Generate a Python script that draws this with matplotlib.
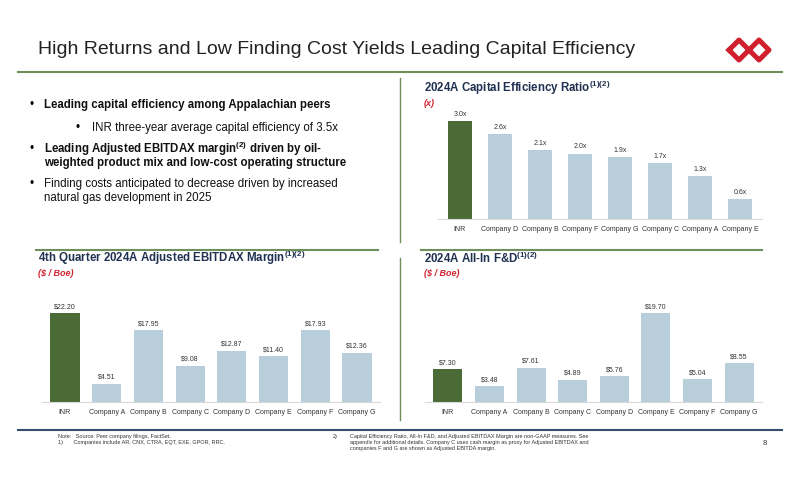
import matplotlib
matplotlib.use("Agg")
import matplotlib.pyplot as plt
from matplotlib.lines import Line2D

plt.rcParams['font.family'] = ['Liberation Sans', 'DejaVu Sans']
plt.rcParams['mathtext.fontset'] = 'custom'
plt.rcParams['mathtext.rm'] = 'Liberation Sans'
plt.rcParams['mathtext.bf'] = 'Liberation Sans:bold'

ce_cats = ["INR", "Company D", "Company B", "Company F", "Company G", "Company C", "Company A", "Company E"]
ce_vals = [3.0, 2.6, 2.1, 2.0, 1.9, 1.7, 1.3, 0.6]
eb_cats = ["INR", "Company A", "Company B", "Company C", "Company D", "Company E", "Company F", "Company G"]
eb_vals = [22.20, 4.51, 17.95, 9.08, 12.87, 11.40, 17.93, 12.36]
fd_cats = ["INR", "Company A", "Company B", "Company C", "Company D", "Company E", "Company F", "Company G"]
fd_vals = [7.30, 3.48, 7.61, 4.89, 5.76, 19.70, 5.04, 8.55]

W, H = 800, 486
fig = plt.figure(figsize=(8, 4.86), dpi=100)
GREEN = "#4A6B35"; BLUE = "#B9CEDB"; NAVY = "#1F3050"; RED = "#D0202E"; RULE = "#6E8E5A"

def px(x, y):
    return x / W, 1 - y / H

def hline(x0, x1, y, color, lw):
    fig.add_artist(Line2D([x0 / W, x1 / W], [1 - y / H] * 2, color=color, lw=lw))

def vline(x, y0, y1, color, lw):
    fig.add_artist(Line2D([x / W] * 2, [1 - y0 / H, 1 - y1 / H], color=color, lw=lw))

fig.text(*px(38, 50), "High Returns and Low Finding Cost Yields Leading Capital Efficiency",
         fontsize=14, color="#222222", va="center")
hline(18, 782, 72, RULE, 1.5)
vline(400, 78, 242, RULE, 1)
vline(400, 258, 420, RULE, 1)
hline(36, 378, 250, RULE, 1.5)
hline(421, 762, 250, RULE, 1.5)
hline(18, 782, 430, "#3A4E72", 1.5)

for cx in (739, 759):
    xs = [cx - 10, cx, cx + 10, cx, cx - 10]
    ys = [50, 40, 50, 60, 50]
    fig.add_artist(Line2D([x / W for x in xs], [1 - y / H for y in ys], color=RED, lw=3.6))

fs = 8.3
fig.text(*px(30, 105), "•", fontsize=fs, va="center")
fig.text(*px(44, 105), "Leading capital efficiency among Appalachian peers", fontsize=fs, fontweight="bold", va="center", color="#111111")
fig.text(*px(76, 128), "•", fontsize=fs, va="center")
fig.text(*px(92, 128), "INR three-year average capital efficiency of 3.5x", fontsize=fs, va="center", color="#111111")
fig.text(*px(30, 149), "•", fontsize=fs, va="center")
fig.text(*px(44, 149), r"Leading Adjusted EBITDAX margin$^{\mathbf{(2)}}$ driven by oil-", fontsize=fs, fontweight="bold", va="center", color="#111111")
fig.text(*px(44, 163), "weighted product mix and low-cost operating structure", fontsize=fs, fontweight="bold", va="center", color="#111111")
fig.text(*px(30, 184), "•", fontsize=fs, va="center")
fig.text(*px(44, 184), "Finding costs anticipated to decrease driven by increased", fontsize=fs, va="center", color="#111111")
fig.text(*px(44, 198), "natural gas development in 2025", fontsize=fs, va="center", color="#111111")

def ctitle(x, y, t, unit):
    fig.text(*px(x, y), t, fontsize=8.3, fontweight="bold", color=NAVY, va="center")
    fig.text(*px(x, y + 15), unit, fontsize=6.5, fontweight="bold", style="italic", color=RED, va="center")

ctitle(424, 88, r"2024A Capital Efficiency Ratio$^{\mathbf{(1)(2)}}$", "(x)")
ctitle(38, 258, r"4th Quarter 2024A Adjusted EBITDAX Margin$^{\mathbf{(1)(2)}}$", "($ / Boe)")
ctitle(424, 258, r"2024A All-In F&D$^{\mathbf{(1)(2)}}$", "($ / Boe)")

def chart(rect, cats, vals, ymax, fmt, width):
    x0, y0, x1, y1 = rect
    ax = fig.add_axes([x0 / W, 1 - y1 / H, (x1 - x0) / W, (y1 - y0) / H])
    colors = [GREEN] + [BLUE] * (len(vals) - 1)
    ax.bar(range(len(vals)), vals, width=width, color=colors)
    for i, v in enumerate(vals):
        ax.text(i, v + ymax * 0.03, fmt(v), ha="center", va="bottom", fontsize=5, color="#333333")
    ax.set_ylim(0, ymax)
    ax.set_xlim(-0.55, len(vals) - 0.45)
    ax.set_xticks(range(len(vals)))
    ax.set_xticklabels(cats, fontsize=5, color="#333333")
    ax.tick_params(axis="x", length=0, pad=5)
    ax.set_yticks([])
    for s in ("top", "right", "left"):
        ax.spines[s].set_visible(False)
    ax.spines["bottom"].set_color("#D9D9D9")
    return ax

chart((438, 110, 762, 219), ce_cats, ce_vals, 3.33, lambda v: f"{v:.1f}x", 0.6)
chart((42, 302, 380, 402), eb_cats, eb_vals, 25.0, lambda v: f"${v:.2f}", 0.7)
chart((425, 302, 762, 402), fd_cats, fd_vals, 22.2, lambda v: f"${v:.2f}", 0.7)

fs = 4
fig.text(*px(58, 436), "Note:   Source: Peer company filings, FactSet.", fontsize=fs, va="center", color="#333333")
fig.text(*px(58, 442), "1)       Companies include AR, CNX, CTRA, EQT, EXE, GPOR, RRC.", fontsize=fs, va="center", color="#333333")
fig.text(*px(333, 436), "2)", fontsize=fs, va="center", color="#333333")
fig.text(*px(350, 436), "Capital Efficiency Ratio, All-In F&D, and Adjusted EBITDAX Margin are non-GAAP measures. See", fontsize=fs, va="center", color="#333333")
fig.text(*px(350, 442), "appendix for additional details. Company C uses cash margin as proxy for Adjusted EBITDAX and", fontsize=fs, va="center", color="#333333")
fig.text(*px(350, 448), "companies F and G are shown as Adjusted EBITDA margin.", fontsize=fs, va="center", color="#333333")
fig.text(*px(763, 443), "8", fontsize=5.5, va="center", color="#333333")

fig.savefig("out.png", dpi=100)
